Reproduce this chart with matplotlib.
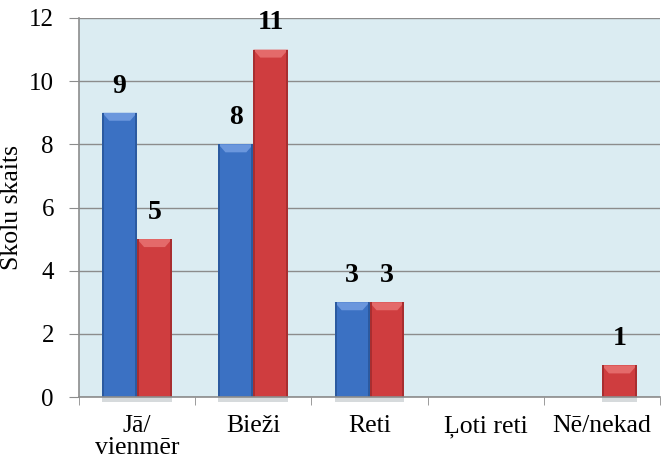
import matplotlib.pyplot as plt
from matplotlib.font_manager import FontProperties
from matplotlib.patches import Polygon, Rectangle
import numpy as np

categories = ['Jā/\nvienmēr', 'Bieži', 'Reti', 'Ļoti reti', 'Nē/nekad']
series_blue = [9, 8, 3, 0, 0]
series_red = [5, 11, 3, 0, 1]

FONT_DIR = '/usr/share/fonts/truetype/liberation/'
serif = FontProperties(fname=FONT_DIR + 'LiberationSerif-Regular.ttf', size=18)
serif_cat = FontProperties(fname=FONT_DIR + 'LiberationSerif-Regular.ttf', size=18.5)
serif_bold = FontProperties(fname=FONT_DIR + 'LiberationSerif-Bold.ttf', size=20)

fig = plt.figure(figsize=(6.65, 4.7), dpi=100)
ax = fig.add_axes([79 / 665, 1 - 397 / 470, 581 / 665, 379 / 470])
ax.set_facecolor('#dbecf2')

x = np.arange(len(categories))
width = 0.3
ax.set_xlim(-0.5, len(categories) - 0.5)
ax.set_ylim(0, 12)

# pixel -> data scale for the bevel edges
sx = 1.0 / 116.2
sy = 12 / 379.0


def bevel_bar(x0, h, face, light, edge):
    if h <= 0:
        return
    w = width
    bx, by = 7 * sx, min(8 * sy, h / 2)
    ex = 2 * sx
    # soft shadow under the bar
    ax.add_patch(Rectangle((x0, -5 * sy), w, 5 * sy, color='#9aa4a8', alpha=0.4, lw=0,
                           zorder=2, clip_on=False))
    ax.add_patch(Rectangle((x0, 0), w, h, color=face, lw=0, zorder=3))
    # top bevel
    ax.add_patch(Polygon([(x0, h), (x0 + w, h), (x0 + w - bx, h - by), (x0 + bx, h - by)],
                         color=light, lw=0, zorder=4))
    # side edges
    ax.add_patch(Rectangle((x0, 0), ex, h, color=edge, lw=0, zorder=4))
    ax.add_patch(Rectangle((x0 + w - ex, 0), ex, h, color=edge, lw=0, zorder=4))


for i in range(len(categories)):
    bevel_bar(x[i] - width, series_blue[i], '#3b71c3', '#6b97dd', '#2b5aa0')
    bevel_bar(x[i], series_red[i], '#cf3d3f', '#e46a6a', '#a82e30')

for i in range(len(categories)):
    if series_blue[i] > 0:
        ax.text(x[i] - width / 2, series_blue[i] + 0.45, str(series_blue[i]), ha='center',
                va='bottom', fontproperties=serif_bold)
    if series_red[i] > 0:
        ax.text(x[i] + width / 2, series_red[i] + 0.45, str(series_red[i]), ha='center',
                va='bottom', fontproperties=serif_bold)

ax.yaxis.grid(True, color='#8c8c8c', lw=1)
ax.set_axisbelow(True)
ax.set_yticks(range(0, 13, 2))
ax.set_yticklabels([str(v) for v in range(0, 13, 2)], fontproperties=serif)
ax.set_xticks(x)
ax.set_xticklabels(categories, fontproperties=serif_cat, linespacing=1.0)
ax.set_xticks(np.arange(-0.5, len(categories)), minor=True)
ax.tick_params(axis='x', which='major', length=0, pad=13)
ax.tick_params(axis='x', which='minor', length=6, color='#8c8c8c')
ax.tick_params(axis='y', length=7, color='#8c8c8c', pad=11)
ax.set_ylabel('Skolu skaits', fontproperties=serif_cat, labelpad=4)

for s in ['top', 'right']:
    ax.spines[s].set_visible(False)
for s in ['left', 'bottom']:
    ax.spines[s].set_color('#8c8c8c')
    ax.spines[s].set_linewidth(1.2)
    ax.spines[s].set_zorder(5)

fig.savefig('out.png', dpi=100)
